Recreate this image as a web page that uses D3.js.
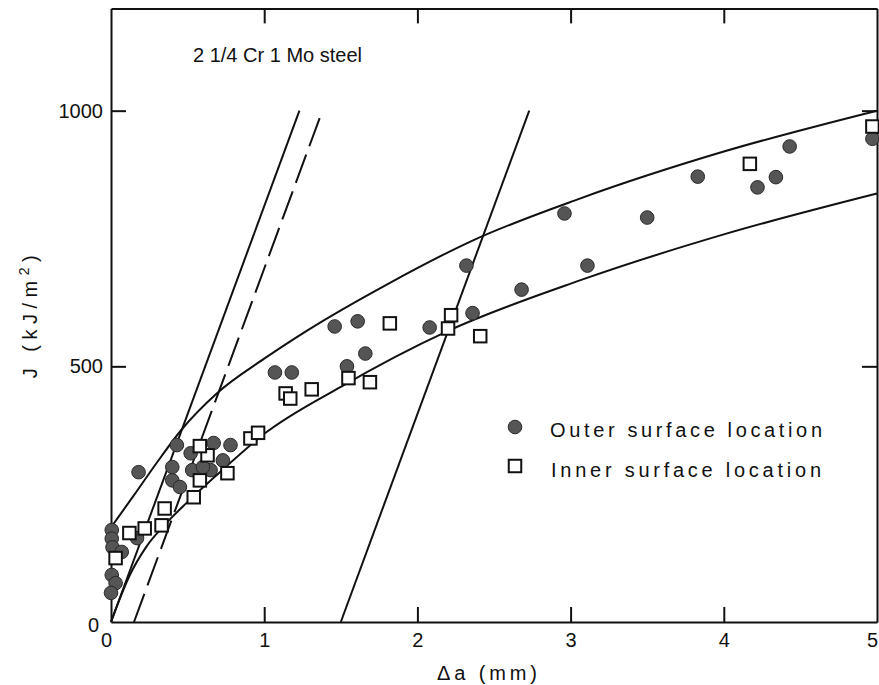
<!DOCTYPE html>
<html>
<head>
<meta charset="utf-8">
<script src="https://cdn.jsdelivr.net/npm/d3@7"></script>
<style>
  html, body { margin: 0; padding: 0; background: #fff; }
  svg { display: block; font-family: "Liberation Sans", Arial, Helvetica, sans-serif; }
</style>
</head>
<body>
<svg id="chart" width="879" height="685"></svg>
<script>
// J–R data for 2 1/4 Cr 1 Mo steel: crack extension Δa (mm) vs J (kJ/m²)
const outerSurface = [
  [0.005, 180], [0.005, 163], [0.01, 146], [0.07, 137],
  [0.005, 92], [0.03, 76], [0.0, 57],
  [0.17, 164], [0.18, 293],
  [0.43, 346], [0.52, 330], [0.67, 350], [0.78, 346],
  [0.40, 303], [0.40, 277], [0.45, 264], [0.65, 297],
  [0.73, 316], [0.53, 297], [0.60, 303],
  [1.07, 488], [1.18, 488], [1.46, 578], [1.61, 588],
  [1.66, 525], [1.54, 500], [2.08, 576], [2.32, 697],
  [2.36, 604], [2.68, 650], [2.96, 799], [3.11, 697],
  [3.50, 791], [3.83, 871], [4.22, 850], [4.34, 870],
  [4.43, 930], [4.97, 945]
];

const innerSurface = [
  [0.03, 125], [0.12, 174], [0.22, 183], [0.33, 189],
  [0.35, 222], [0.54, 244], [0.58, 277], [0.76, 291],
  [0.63, 326], [0.58, 344], [0.91, 359], [0.96, 370],
  [1.14, 447], [1.17, 437], [1.31, 455], [1.55, 477],
  [1.69, 469], [1.82, 584], [2.20, 574], [2.22, 600],
  [2.41, 559], [4.17, 896], [4.97, 969]
];

// Upper and lower bounding curves of the scatter band
const upperCurve = [
  [0, 185], [0.15, 248], [0.3, 312], [0.46, 376], [0.69, 447],
  [1.0, 515], [1.28, 570], [1.8, 660], [2.36, 746], [3.06, 828],
  [4.0, 920], [5.0, 1000]
];
const lowerCurve = [
  [0, 0], [0.05, 40], [0.12, 90], [0.23, 147], [0.36, 193],
  [0.49, 232], [0.7, 290], [1.0, 368], [1.5, 460], [2.19, 568],
  [3.06, 668], [4.0, 758], [5.0, 838]
];

// Blunting line, 0.15 mm offset (dashed) and 1.5 mm exclusion line
const bluntingLine = [[0, 0], [1.23, 1000]];
const offsetLine = [[0.15, 0], [1.38, 1000]];
const exclusionLine = [[1.5, 0], [2.73, 1000]];

const xTicks = [0, 1, 2, 3, 4, 5];
const yTicks = [0, 500, 1000];

const svg = d3.select("#chart");
const ink = "#111";
const fmt = d3.format("d");

const x = d3.scaleLinear().domain([0, 5]).range([111, 877]);
const y = d3.scaleLinear().domain([0, 1200]).range([622, 8.4]);

// Frame with inward ticks on all four sides
const axB = svg.append("g").attr("transform", `translate(0,${y(0)})`)
  .call(d3.axisBottom(x).tickValues(xTicks).tickFormat(fmt)
    .tickSizeInner(-15).tickSizeOuter(0).tickPadding(11));
const axL = svg.append("g").attr("transform", `translate(${x(0)},0)`)
  .call(d3.axisLeft(y).tickValues(yTicks).tickFormat(fmt)
    .tickSizeInner(-15).tickSizeOuter(0).tickPadding(8));
const axT = svg.append("g").attr("transform", `translate(0,${y(1200)})`)
  .call(d3.axisTop(x).tickValues(xTicks).tickSizeInner(-15).tickSizeOuter(0).tickFormat(""));
const axR = svg.append("g").attr("transform", `translate(${x(5)},0)`)
  .call(d3.axisRight(y).tickValues(yTicks).tickSizeInner(-15).tickSizeOuter(0).tickFormat(""));

[axB, axL, axT, axR].forEach(g => {
  g.select(".domain").attr("stroke", ink).attr("stroke-width", 2);
  g.selectAll(".tick line").attr("stroke", ink).attr("stroke-width", 2)
    .filter(d => d === 0 || d === 5 || d === 1200).remove();
  g.selectAll(".tick text").attr("fill", ink).attr("font-size", 20)
    .attr("font-family", "'Liberation Sans', Arial, sans-serif");
});
axB.selectAll(".tick text").filter(d => d === 0).attr("dx", -5);
axB.selectAll(".tick text").filter(d => d === 5).attr("dx", -5);
axL.selectAll(".tick text").filter(d => d === 0).attr("dx", -4).attr("dy", "0.45em");

// Straight construction lines
const line = d3.line().x(d => x(d[0])).y(d => y(d[1]));
svg.append("path").datum(bluntingLine).attr("d", line)
  .attr("fill", "none").attr("stroke", ink).attr("stroke-width", 2);
svg.append("path").datum(offsetLine).attr("d", line)
  .attr("fill", "none").attr("stroke", ink).attr("stroke-width", 2)
  .attr("stroke-dasharray", "30,9");
svg.append("path").datum(exclusionLine).attr("d", line)
  .attr("fill", "none").attr("stroke", ink).attr("stroke-width", 2);

// Band curves
const curve = d3.line().x(d => x(d[0])).y(d => y(d[1])).curve(d3.curveMonotoneX);
[upperCurve, lowerCurve].forEach(c => {
  svg.append("path").datum(c).attr("d", curve)
    .attr("fill", "none").attr("stroke", ink).attr("stroke-width", 2);
});

// Markers
const dotFill = "#555";
svg.append("g").selectAll("circle").data(outerSurface).join("circle")
  .attr("cx", d => x(d[0])).attr("cy", d => y(d[1])).attr("r", 6.8)
  .attr("fill", dotFill).attr("stroke", "#2a2a2a").attr("stroke-width", 1);

const sq = 12.5;
svg.append("g").selectAll("rect").data(innerSurface).join("rect")
  .attr("x", d => x(d[0]) - sq / 2).attr("y", d => y(d[1]) - sq / 2)
  .attr("width", sq).attr("height", sq)
  .attr("fill", "#fff").attr("stroke", ink).attr("stroke-width", 2);

// Material label
svg.append("text").attr("x", 193).attr("y", 62).attr("font-size", 20).attr("fill", ink)
  .text("2 1/4 Cr 1 Mo steel");

// Legend
svg.append("circle").attr("cx", 515).attr("cy", 427).attr("r", 6.8)
  .attr("fill", dotFill).attr("stroke", "#2a2a2a").attr("stroke-width", 1);
svg.append("rect").attr("x", 515 - sq / 2).attr("y", 466 - sq / 2).attr("width", sq).attr("height", sq)
  .attr("fill", "#fff").attr("stroke", ink).attr("stroke-width", 2);
svg.append("text").attr("x", 550).attr("y", 437).attr("font-size", 20).attr("fill", ink)
  .attr("textLength", 272).attr("lengthAdjust", "spacing").text("Outer surface location");
svg.append("text").attr("x", 551).attr("y", 477).attr("font-size", 20).attr("fill", ink)
  .attr("textLength", 270).attr("lengthAdjust", "spacing").text("Inner surface location");

// Axis titles
svg.append("text").attr("x", 487).attr("y", 680).attr("text-anchor", "middle")
  .attr("font-size", 20).attr("fill", ink)
  .attr("textLength", 100).attr("lengthAdjust", "spacing").text("Δa (mm)");

const yTitle = svg.append("text")
  .attr("transform", "translate(37,314) rotate(-90)")
  .attr("text-anchor", "middle").attr("font-size", 20).attr("fill", ink)
  .attr("letter-spacing", "5.5px");
yTitle.append("tspan").text("J (kJ/m");
yTitle.append("tspan").attr("font-size", 14).attr("dy", -8).text("2");
yTitle.append("tspan").attr("dy", 8).text(")");
</script>
</body>
</html>
